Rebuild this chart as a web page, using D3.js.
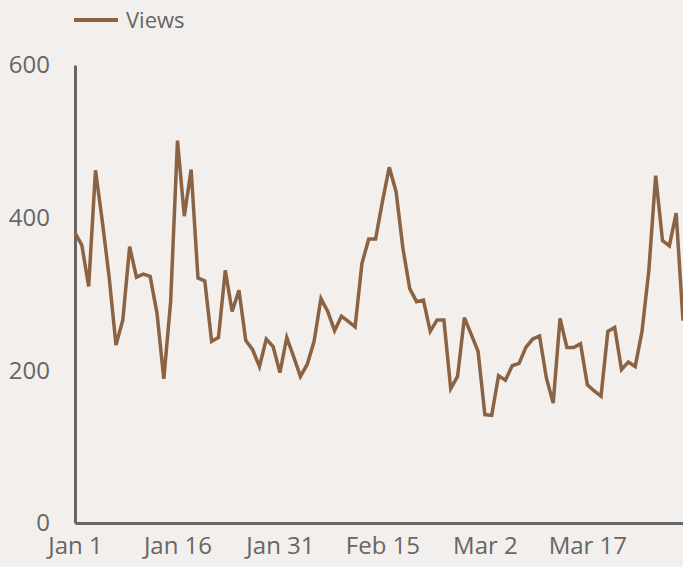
<!DOCTYPE html>
<html>
<head>
<meta charset="utf-8">
<script src="https://cdn.jsdelivr.net/npm/d3@7"></script>
<style>
  html, body { margin: 0; padding: 0; background: #f2efec; }
  svg { display: block; font-family: "Open Sans", sans-serif; }
</style>
</head>
<body>
<div id="chart"></div>
<script>
/* Daily views, Jan 1 - Mar 31 */

const START_DATE = '2023-01-01';
const SERIES_NAME = 'Views';
const views = [
  380, 364, 310, 462, 395, 322, 233, 266, 362, 322,
  326, 323, 275, 189, 290, 501, 402, 463, 321, 317,
  238, 243, 331, 277, 305, 239, 227, 205, 241, 231,
  197, 243, 218, 192, 208, 238, 294, 277, 252, 271,
  264, 257, 340, 372, 372, 421, 466, 434, 360, 307,
  290, 292, 251, 266, 266, 176, 192, 269, 247, 225,
  142, 141, 193, 187, 206, 209, 230, 241, 245, 190,
  157, 268, 230, 230, 235, 181, 173, 166, 251, 256,
  201, 211, 205, 251, 331, 455, 370, 363, 406, 265
];
const xTickDates = ['2023-01-01', '2023-01-16', '2023-01-31', '2023-02-15', '2023-03-02', '2023-03-17'];
const yTicks = [0, 200, 400, 600];

const LINE_COLOR = '#8b6343';
const AXIS_COLOR = '#666666';
const TEXT_COLOR = '#666666';

/* ── Setup ─────────────────────────────────────────────────────────── */

const width = 683;
const height = 567;
const margin = { top: 65, right: 0, bottom: 44, left: 75 };

const parseDate = d3.utcParse('%Y-%m-%d');
const start = parseDate(START_DATE);
const data = views.map((v, i) => ({ date: d3.utcDay.offset(start, i), value: v }));

const svg = d3.select('#chart')
  .append('svg')
  .attr('width', width)
  .attr('height', height);

const x = d3.scaleUtc()
  .domain(d3.extent(data, d => d.date))
  .range([margin.left, width - margin.right]);

const y = d3.scaleLinear()
  .domain([0, 600])
  .range([height - margin.bottom, margin.top]);

/* ── Axes ──────────────────────────────────────────────────────────── */

const xAxis = svg.append('g')
  .attr('transform', `translate(0,${height - margin.bottom})`)
  .call(d3.axisBottom(x)
    .tickValues(xTickDates.map(parseDate))
    .tickFormat(d3.utcFormat('%b %-d'))
    .tickSize(0)
    .tickPadding(14));

const yAxis = svg.append('g')
  .attr('transform', `translate(${margin.left},0)`)
  .call(d3.axisLeft(y)
    .tickValues(yTicks)
    .tickSize(0)
    .tickPadding(25));

[xAxis, yAxis].forEach(ax => {
  ax.select('.domain')
    .attr('stroke', AXIS_COLOR)
    .attr('stroke-width', 3);
  ax.selectAll('text')
    .attr('fill', TEXT_COLOR)
    .attr('font-size', 24)
    .attr('font-family', '"Open Sans", sans-serif');
});

/* ── Line ──────────────────────────────────────────────────────────── */

const line = d3.line()
  .x(d => x(d.date))
  .y(d => y(d.value));

svg.append('path')
  .datum(data)
  .attr('fill', 'none')
  .attr('stroke', LINE_COLOR)
  .attr('stroke-width', 3.5)
  .attr('stroke-linejoin', 'miter')
  .attr('d', line);

/* ── Legend ────────────────────────────────────────────────────────── */

const legend = svg.append('g').attr('transform', 'translate(74,20)');
legend.append('line')
  .attr('x1', 0).attr('x2', 44)
  .attr('stroke', LINE_COLOR)
  .attr('stroke-width', 4);
legend.append('text')
  .attr('x', 52)
  .attr('dy', '0.35em')
  .attr('fill', TEXT_COLOR)
  .attr('font-size', 22)
  .text(SERIES_NAME);
</script>
</body>
</html>
